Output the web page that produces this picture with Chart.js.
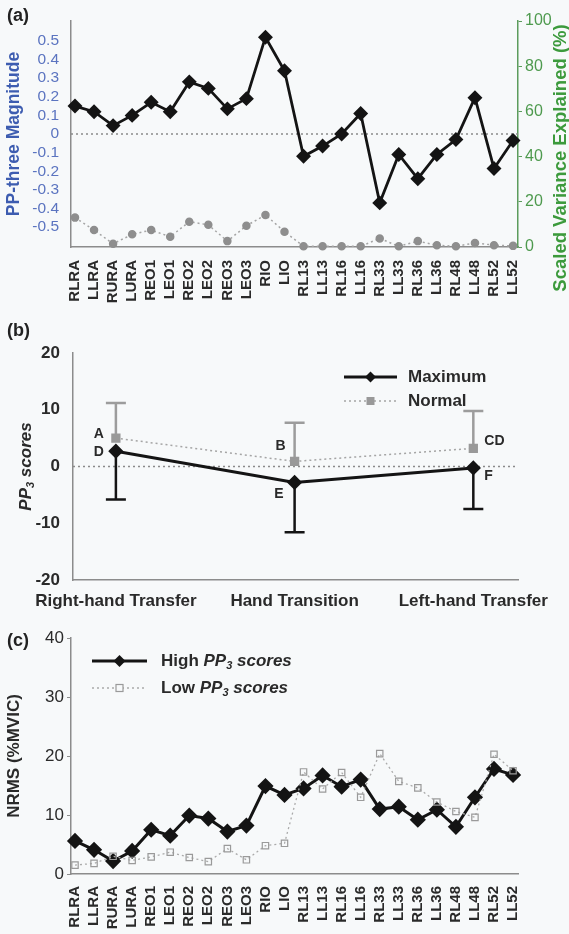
<!DOCTYPE html>
<html>
<head>
<meta charset="utf-8">
<script src="https://cdn.jsdelivr.net/npm/chart.js@4.4.0/dist/chart.umd.min.js"></script>
<style>
html, body { margin: 0; padding: 0; background: #f7f9fa; }
#wrap { position: relative; width: 569px; height: 934px; overflow: hidden; font-family: "Liberation Sans", Arial, sans-serif; }
canvas { position: absolute; left: 0; }
.tag { position: absolute; left: 7px; font-weight: bold; font-size: 18px; color: #222; line-height: 20px; }
#rtitle { position: absolute; left: 420px; top: 158px; width: 300px; line-height: 20px; text-align: center;
  transform: rotate(-90deg); transform-origin: 140px 10px; font-weight: bold; font-size: 18.5px; color: #3c9a3c; white-space: nowrap; }
</style>
</head>
<body>
<div id="wrap">
  <canvas id="cA" width="569" height="310" style="top:0"></canvas>
  <canvas id="cB" width="569" height="300" style="top:310px"></canvas>
  <canvas id="cC" width="569" height="324" style="top:610px"></canvas>
  <div class="tag" style="top:5px">(a)</div>
  <div class="tag" style="top:320px">(b)</div>
  <div class="tag" style="top:630px">(c)</div>
  <div id="rtitle">Scaled Variance Explained (%)</div>
</div>
<script>
const FONT = '"Liberation Sans", Arial, sans-serif';
Chart.defaults.font.family = FONT;
Chart.defaults.color = '#2a2a2a';
Chart.defaults.animation = false;

// panel (a) and (c) categories
const muscles = ['RLRA','LLRA','RURA','LURA','REO1','LEO1','REO2','LEO2','REO3','LEO3','RIO','LIO',
                 'RL13','LL13','RL16','LL16','RL33','LL33','RL36','LL36','RL48','LL48','RL52','LL52'];
// (a) PP-three magnitude (left axis) and scaled variance explained % (right axis)
const ppThree = [0.15,0.12,0.045,0.10,0.17,0.12,0.28,0.245,0.135,0.19,0.52,0.34,
                 -0.12,-0.065,0.0,0.11,-0.37,-0.11,-0.24,-0.11,-0.03,0.195,-0.185,-0.035];
const varExplained = [13,7.5,1.4,5.6,7.5,4.5,11.2,9.8,2.6,9.4,14.2,6.8,
                      0.3,0.3,0.3,0.3,3.8,0.3,2.6,0.8,0.3,1.8,0.8,0.5];
const leftTicks = [-0.5,-0.4,-0.3,-0.2,-0.1,0,0.1,0.2,0.3,0.4,0.5];

// (b) PP3 scores per phase
const phases = ['Right-hand Transfer','Hand Transition','Left-hand Transfer'];
const maxScore = [2.7, -2.8, -0.25];
const maxLow = [-5.8, -11.6, -7.5];
const normScore = [5.0, 0.9, 3.2];
const normHigh = [11.2, 7.7, 9.8];
const maxTags = ['D','E','F'];
const normTags = ['A','B','CD'];

// (c) NRMS (%MVIC)
const highPP = [5.6,4.1,2.2,3.9,7.5,6.5,9.9,9.4,7.2,8.2,14.9,13.4,
                14.5,16.7,14.8,16.0,11.0,11.4,9.2,10.9,8.0,13.0,17.8,16.8];
const lowPP = [1.5,1.8,3.0,2.3,2.9,3.7,2.8,2.1,4.3,2.4,4.8,5.2,
               17.3,14.4,17.2,13.0,20.4,15.7,14.6,12.2,10.6,9.6,20.3,17.5];

const xy = arr => arr.map((v, i) => ({ x: i, y: v }));
const fixW = w => s => { s.width = w; };
const fixH = h => s => { s.height = h; };

// text with italic / subscript pieces
function richWidth(ctx, parts, size) {
    let w = 0;
    parts.forEach(p => {
        ctx.font = (p.it ? 'italic ' : '') + 'bold ' + (p.sub ? Math.round(size * 0.62) : size) + 'px ' + FONT;
        w += ctx.measureText(p.t).width;
    });
    return w;
}
function richText(ctx, parts, x, y, size) {
    let cx = x;
    ctx.textBaseline = 'middle'; ctx.textAlign = 'left';
    parts.forEach(p => {
        ctx.font = (p.it ? 'italic ' : '') + 'bold ' + (p.sub ? Math.round(size * 0.62) : size) + 'px ' + FONT;
        ctx.fillText(p.t, cx, y + (p.sub ? size * 0.32 : 0));
        cx += ctx.measureText(p.t).width;
    });
}

const zeroLine = {
    id: 'zeroLine',
    beforeDatasetsDraw(chart) {
        const { ctx, chartArea: a, scales: { y } } = chart;
        const py = y.getPixelForValue(0);
        ctx.save();
        ctx.strokeStyle = '#8a8a8a'; ctx.lineWidth = 1.5; ctx.setLineDash([2, 3]);
        ctx.beginPath(); ctx.moveTo(a.left, py); ctx.lineTo(a.right, py); ctx.stroke();
        ctx.restore();
    }
};

// ---------- (a) ----------
new Chart(document.getElementById('cA'), {
    type: 'line',
    data: { datasets: [
        { data: xy(varExplained), yAxisID: 'yR', borderColor: '#a5a5a5', borderWidth: 1.5, borderDash: [2, 3],
          pointStyle: 'circle', pointRadius: 3.5, pointBackgroundColor: '#8e8e8e', pointBorderColor: '#8e8e8e', clip: false },
        { data: xy(ppThree), yAxisID: 'y', borderColor: '#141414', borderWidth: 2.8,
          pointStyle: 'rectRot', pointRadius: 5.5, pointBackgroundColor: '#141414', pointBorderColor: '#141414', clip: false }
    ]},
    options: {
        responsive: false, devicePixelRatio: 1,
        layout: { padding: { top: 21, left: 0, right: 0, bottom: 0 } },
        plugins: { legend: { display: false }, tooltip: { enabled: false } },
        scales: {
            x: { type: 'linear', min: -0.21, max: 23.26,
                 afterBuildTicks: s => { s.ticks = muscles.map((m, i) => ({ value: i })); },
                 afterFit: fixH(63), grid: { display: false }, border: { color: '#8c8c8c', width: 1.5 },
                 ticks: { autoSkip: false, minRotation: 90, maxRotation: 90, padding: 5, color: '#2a2a2a',
                          font: { size: 15, weight: 'bold' }, callback: v => muscles[v] } },
            y: { position: 'left', min: -0.607, max: 0.607,
                 afterBuildTicks: s => { s.ticks = leftTicks.map(v => ({ value: v })); },
                 afterFit: fixW(71), grid: { display: false }, border: { color: '#8c8c8c', width: 1.5 },
                 title: { display: true, text: 'PP-three Magnitude', color: '#3d5cb0',
                          font: { size: 17.5, weight: 'bold' }, padding: { top: 4, bottom: 0 } },
                 ticks: { autoSkip: false, color: '#5b74c0', font: { size: 15.5 }, padding: 4,
                          callback: v => v === 0 ? '0' : v.toFixed(1) } },
            yR: { position: 'right', min: 0, max: 100, afterFit: fixW(51),
                  grid: { display: true, drawOnChartArea: false, drawTicks: true, tickLength: 4, color: '#5c9c5c' },
                  border: { color: '#5c9c5c', width: 1.5 },
                  ticks: { stepSize: 20, color: '#4e9a4e', font: { size: 16 }, padding: 3 } }
        }
    },
    plugins: [zeroLine]
});

// ---------- (b) ----------
const errBars = {
    id: 'errBars',
    beforeDatasetsDraw(chart) {
        const { ctx, scales: { x, y } } = chart;
        const cap = 10;
        const bar = (px, y0, y1, col) => {
            ctx.strokeStyle = col;
            ctx.beginPath();
            ctx.moveTo(px, y0); ctx.lineTo(px, y1);
            ctx.moveTo(px - cap, y1); ctx.lineTo(px + cap, y1);
            ctx.stroke();
        };
        ctx.save(); ctx.lineWidth = 2.5;
        phases.forEach((p, i) => {
            const px = x.getPixelForValue(i);
            bar(px, y.getPixelForValue(normScore[i]), y.getPixelForValue(normHigh[i]), '#9c9c9c');
            bar(px, y.getPixelForValue(maxScore[i]), y.getPixelForValue(maxLow[i]), '#141414');
        });
        ctx.restore();
    }
};
const tagsB = {
    id: 'tagsB',
    afterDatasetsDraw(chart) {
        const { ctx, scales: { x, y } } = chart;
        const normOff = [[-12, -4, 'right'], [-9, -15, 'right'], [11, -7, 'left']];
        const maxOff = [[-12, 1, 'right'], [-11, 12, 'right'], [11, 8, 'left']];
        ctx.save();
        ctx.font = 'bold 14px ' + FONT; ctx.fillStyle = '#2a2a2a'; ctx.textBaseline = 'middle';
        phases.forEach((p, i) => {
            const px = x.getPixelForValue(i);
            ctx.textAlign = normOff[i][2];
            ctx.fillText(normTags[i], px + normOff[i][0], y.getPixelForValue(normScore[i]) + normOff[i][1]);
            ctx.textAlign = maxOff[i][2];
            ctx.fillText(maxTags[i], px + maxOff[i][0], y.getPixelForValue(maxScore[i]) + maxOff[i][1]);
        });
        ctx.restore();
    }
};
const legendB = {
    id: 'legendB',
    afterDraw(chart) {
        const { ctx, chartArea: a } = chart;
        const x0 = a.right - 174, x1 = a.right - 121, tx = a.right - 110;
        const r1 = a.top + 24, r2 = a.top + 48;
        const m = (x0 + x1) / 2;
        ctx.save();
        ctx.strokeStyle = '#141414'; ctx.lineWidth = 2.8;
        ctx.beginPath(); ctx.moveTo(x0, r1); ctx.lineTo(x1, r1); ctx.stroke();
        ctx.fillStyle = '#141414';
        ctx.beginPath();
        ctx.moveTo(m, r1 - 5.5); ctx.lineTo(m + 5.5, r1); ctx.lineTo(m, r1 + 5.5); ctx.lineTo(m - 5.5, r1); ctx.fill();
        ctx.strokeStyle = '#a5a5a5'; ctx.lineWidth = 1.5; ctx.setLineDash([2, 3]);
        ctx.beginPath(); ctx.moveTo(x0, r2); ctx.lineTo(x1, r2); ctx.stroke();
        ctx.fillStyle = '#999'; ctx.fillRect(m - 4, r2 - 4, 8, 8);
        ctx.fillStyle = '#2a2a2a'; ctx.font = 'bold 17px ' + FONT; ctx.textBaseline = 'middle'; ctx.textAlign = 'left';
        ctx.fillText('Maximum', tx, r1);
        ctx.fillText('Normal', tx, r2);
        ctx.restore();
    }
};
const titleB = {
    id: 'titleB',
    afterDraw(chart) {
        const { ctx, chartArea: a } = chart;
        const parts = [{ t: 'PP', it: true }, { t: '3', it: true, sub: true }, { t: ' scores', it: true }];
        ctx.save(); ctx.fillStyle = '#2a2a2a';
        const w = richWidth(ctx, parts, 17);
        ctx.translate(26, (a.top + a.bottom) / 2); ctx.rotate(-Math.PI / 2);
        richText(ctx, parts, -w / 2, 0, 17);
        ctx.restore();
    }
};
new Chart(document.getElementById('cB'), {
    type: 'line',
    data: { datasets: [
        { data: xy(normScore), borderColor: '#a5a5a5', borderWidth: 1.5, borderDash: [2, 3],
          pointStyle: 'rect', pointRadius: 5.5, pointBackgroundColor: '#999', pointBorderColor: '#999', clip: false },
        { data: xy(maxScore), borderColor: '#141414', borderWidth: 3,
          pointStyle: 'rectRot', pointRadius: 5.5, pointBackgroundColor: '#141414', pointBorderColor: '#141414', clip: false }
    ]},
    options: {
        responsive: false, devicePixelRatio: 1,
        layout: { padding: { top: 43, left: 0, right: 51, bottom: 0 } },
        plugins: { legend: { display: false }, tooltip: { enabled: false } },
        scales: {
            x: { type: 'linear', min: -0.24, max: 2.25,
                 afterBuildTicks: s => { s.ticks = phases.map((p, i) => ({ value: i })); },
                 afterFit: fixH(30), grid: { display: false }, border: { color: '#8c8c8c', width: 1.5 },
                 ticks: { autoSkip: false, maxRotation: 0, padding: 3, color: '#2a2a2a',
                          font: { size: 17, weight: 'bold' }, callback: v => phases[v] } },
            y: { min: -20, max: 20, afterFit: fixW(73), grid: { display: false },
                 border: { color: '#8c8c8c', width: 1.5 },
                 ticks: { stepSize: 10, padding: 5, color: '#2a2a2a', font: { size: 17, weight: 'bold' } } }
        }
    },
    plugins: [zeroLine, errBars, tagsB, legendB, titleB]
});

// ---------- (c) ----------
const legendC = {
    id: 'legendC',
    afterDraw(chart) {
        const { ctx, chartArea: a } = chart;
        const x0 = a.left + 21, x1 = a.left + 76, tx = a.left + 90;
        const r1 = a.top + 23, r2 = a.top + 50;
        const m = (x0 + x1) / 2;
        ctx.save();
        ctx.strokeStyle = '#141414'; ctx.lineWidth = 3;
        ctx.beginPath(); ctx.moveTo(x0, r1); ctx.lineTo(x1, r1); ctx.stroke();
        ctx.fillStyle = '#141414';
        ctx.beginPath(); ctx.moveTo(m, r1 - 6); ctx.lineTo(m + 6, r1); ctx.lineTo(m, r1 + 6); ctx.lineTo(m - 6, r1); ctx.fill();
        ctx.strokeStyle = '#aaa'; ctx.lineWidth = 1.3; ctx.setLineDash([2, 3]);
        ctx.beginPath(); ctx.moveTo(x0, r2); ctx.lineTo(x1, r2); ctx.stroke();
        ctx.setLineDash([]); ctx.strokeStyle = '#9a9a9a'; ctx.lineWidth = 1.2;
        ctx.fillStyle = '#f7f9fa'; ctx.fillRect(m - 3.5, r2 - 3.5, 7, 7); ctx.strokeRect(m - 3.5, r2 - 3.5, 7, 7);
        ctx.fillStyle = '#2a2a2a';
        richText(ctx, [{ t: 'High ' }, { t: 'PP', it: true }, { t: '3', it: true, sub: true }, { t: ' scores', it: true }], tx, r1, 17);
        richText(ctx, [{ t: 'Low ' }, { t: 'PP', it: true }, { t: '3', it: true, sub: true }, { t: ' scores', it: true }], tx, r2, 17);
        ctx.restore();
    }
};
new Chart(document.getElementById('cC'), {
    type: 'line',
    data: { datasets: [
        { data: xy(lowPP), borderColor: '#aaaaaa', borderWidth: 1.3, borderDash: [2, 3],
          pointStyle: 'rect', pointRadius: 4.5, pointBackgroundColor: 'rgba(0,0,0,0)', pointBorderColor: '#9a9a9a',
          pointBorderWidth: 1.2, clip: false },
        { data: xy(highPP), borderColor: '#141414', borderWidth: 3,
          pointStyle: 'rectRot', pointRadius: 6, pointBackgroundColor: '#141414', pointBorderColor: '#141414', clip: false }
    ]},
    options: {
        responsive: false, devicePixelRatio: 1,
        layout: { padding: { top: 28, left: 0, right: 51, bottom: 0 } },
        plugins: { legend: { display: false }, tooltip: { enabled: false } },
        scales: {
            x: { type: 'linear', min: -0.21, max: 23.26,
                 afterBuildTicks: s => { s.ticks = muscles.map((m, i) => ({ value: i })); },
                 afterFit: fixH(60), grid: { display: false }, border: { color: '#8c8c8c', width: 1.5 },
                 ticks: { autoSkip: false, minRotation: 90, maxRotation: 90, padding: 4, color: '#2a2a2a',
                          font: { size: 15, weight: 'bold' }, callback: v => muscles[v] } },
            y: { min: 0, max: 40, afterFit: fixW(71),
                 grid: { display: true, drawOnChartArea: false, drawTicks: true, tickLength: 4, color: '#8c8c8c' },
                 border: { color: '#8c8c8c', width: 1.5 },
                 title: { display: true, text: 'NRMS (%MVIC)', color: '#2a2a2a',
                          font: { size: 17, weight: 'bold' }, padding: { top: 4, bottom: 0 } },
                 ticks: { stepSize: 10, padding: 3, color: '#2a2a2a', font: { size: 17 } } }
        }
    },
    plugins: [legendC]
});
</script>
</body>
</html>
